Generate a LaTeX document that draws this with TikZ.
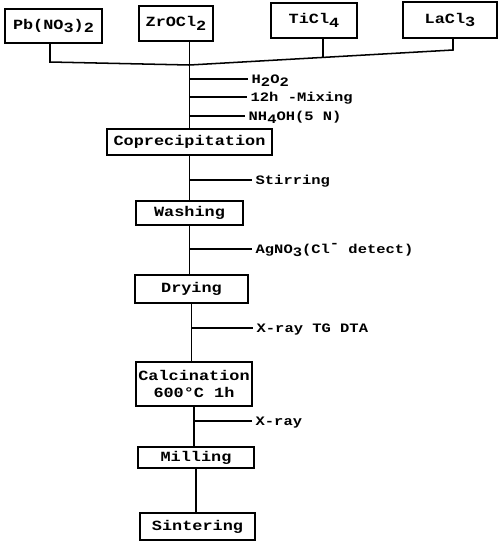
\documentclass[tikz,border=0pt]{standalone}
\usepackage{fontspec}
\newfontfamily\typefont[FakeStretch=1.2]{Liberation Mono}
\usepackage{tikz}
\usetikzlibrary{positioning}
\newcommand{\dn}[1]{\raisebox{-0.45ex}{#1}}
\newcommand{\up}[1]{\raisebox{0.8ex}{#1}}
\tikzset{stage/.style={rectangle,draw,line width=1.3pt,inner sep=0pt,align=center,font=\typefont\bfseries\fontsize{12}{14}\selectfont}}
\tikzset{note/.style={anchor=west,inner xsep=2.5pt,inner ysep=0pt,text height=7.5pt,text depth=0pt,font=\typefont\bfseries\fontsize{11}{13}\selectfont}}

\begin{document}
\begin{tikzpicture}[x=0.03cm,y=-0.03cm,line width=1.3pt]
    \useasboundingbox (0,0) rectangle (500,546);
    % starting salts
    \node[stage,minimum width=2.91cm,minimum height=1.02cm] (pb) at (53.5,26) {Pb(NO\dn{3})\dn{2}};
    \node[stage,minimum width=2.22cm,minimum height=1.05cm] (zr) at (176,23.5) {ZrOCl\dn{2}};
    \node[stage,minimum width=2.58cm,minimum height=1.05cm] (ti) at (314,20.5) {TiCl\dn{4}};
    \node[stage,minimum width=2.82cm,minimum height=1.08cm] (la) at (450,20) {LaCl\dn{3}};
    % process steps
    \node[stage,minimum width=4.95cm,minimum height=0.78cm] (copre) at (189.5,142) {Coprecipitation};
    \node[stage,minimum width=3.21cm,minimum height=0.72cm] (wash) at (189.5,213) {Washing};
    \node[stage,minimum width=3.39cm,minimum height=0.84cm] (dry) at (191.5,289) {Drying};
    \node[stage,minimum width=3.48cm,minimum height=1.32cm] (calc) at (194,384) {Calcination\\600\textdegree C 1h};
    \node[stage,minimum width=3.48cm,minimum height=0.63cm] (mill) at (196,457.5) {Milling};
    \node[stage,minimum width=3.45cm,minimum height=0.81cm] (sint) at (197.5,526.5) {Sintering};
    % side notes
    \node[note] (h2o2) at (248,79) {H\dn{2}O\dn{2}};
    \node[note] (mix) at (247,97) {12h -Mixing};
    \node[note] (nh) at (245,116) {NH\dn{4}OH(5 N)};
    \node[note] (stir) at (252,180) {Stirring};
    \node[note] (ag) at (252,249) {AgNO\dn{3}(Cl\up{-} detect)};
    \node[note] (xtg) at (253,328) {X-ray TG DTA};
    \node[note] (xr) at (252,421) {X-ray};

    \coordinate (bl) at (50,62);
    \coordinate (bm) at (189.5,65);
    \coordinate (br) at (453,50);
    \coordinate (bt) at (323,57.5);

    \draw [] (pb.south -| bl) to [] (bl) to [] (bm) to [] (br) to [] (la.south -| br);
    \draw [] (ti.south -| bt) to [] (bt);
    \draw [] (zr.south -| copre.north) to [] (copre.north);
    \draw [] (copre.south) to [] (copre.south |- wash.north);
    \draw [] (wash.south) to [] (wash.south |- dry.north);
    \draw [] (dry.south) to [] (dry.south |- calc.north);
    \draw [] (calc.south) to [] (calc.south |- mill.north);
    \draw [] (mill.south) to [] (mill.south |- sint.north);

    \draw [] (h2o2.west -| copre.north) to [] (h2o2.west);
    \draw [] (mix.west -| copre.north) to [] (mix.west);
    \draw [] (nh.west -| copre.north) to [] (nh.west);
    \draw [] (stir.west -| copre.south) to [] (stir.west);
    \draw [] (ag.west -| wash.south) to [] (ag.west);
    \draw [] (xtg.west -| dry.south) to [] (xtg.west);
    \draw [] (xr.west -| calc.south) to [] (xr.west);
\end{tikzpicture}
\end{document}
